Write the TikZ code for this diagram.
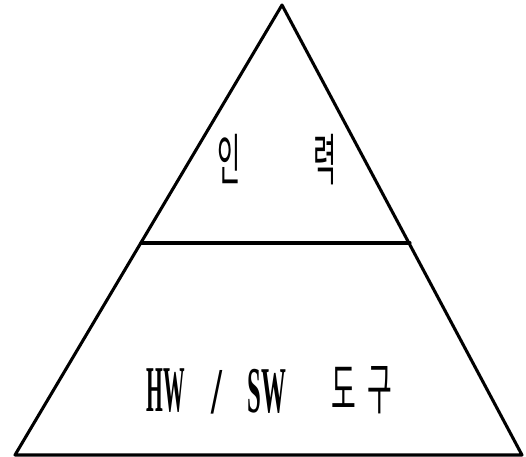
\documentclass[tikz,border=0pt]{standalone}
\usepackage{fontspec}
\usepackage{graphicx}
\setmainfont{Liberation Serif}
\newfontfamily\krfont{Noto Sans CJK KR}
\usetikzlibrary{positioning}

\begin{document}
\begin{tikzpicture}[
    x=0.75pt, y=-0.75pt,
    edge/.style={
        line width=2.3pt,
        line cap=round,
        line join=round
    },
    kr/.style={
        inner sep=0pt,
        font=\fontsize{42}{42}\krfont
    },
    lat/.style={
        inner sep=0pt,
        font=\fontsize{49}{49}\selectfont\bfseries
    }
]
\useasboundingbox (0,0) rectangle (526,457);

% Corners of the pyramid
\coordinate (top) at (282,5);
\coordinate (bl) at (15,455);
\coordinate (br) at (522,455);
\coordinate (ml) at (141,243);
\coordinate (mr) at (410,243);

% Outline
\draw[edge] (bl) -- (top) -- (br) -- cycle;
\draw[edge] (ml) -- (mr);

% Upper part: people
\node[kr] (inryeok) at (277,160) {\scalebox{0.45}[1]{인}\hspace{55pt}\scalebox{0.45}[1]{력}};

% Lower part: tools
\node[lat] (hw) at (166,391) {\scalebox{0.33}[1]{HW}};
\node[lat] (slash) at (217,392) {\scalebox{0.6}[1]{/}};
\node[lat] (sw) at (267,391) {\scalebox{0.38}[1]{SW}};
\node[kr] (dogu) at (362,390) {\scalebox{0.48}[1]{도}\hspace{8pt}\scalebox{0.48}[1]{구}};

\end{tikzpicture}
\end{document}
